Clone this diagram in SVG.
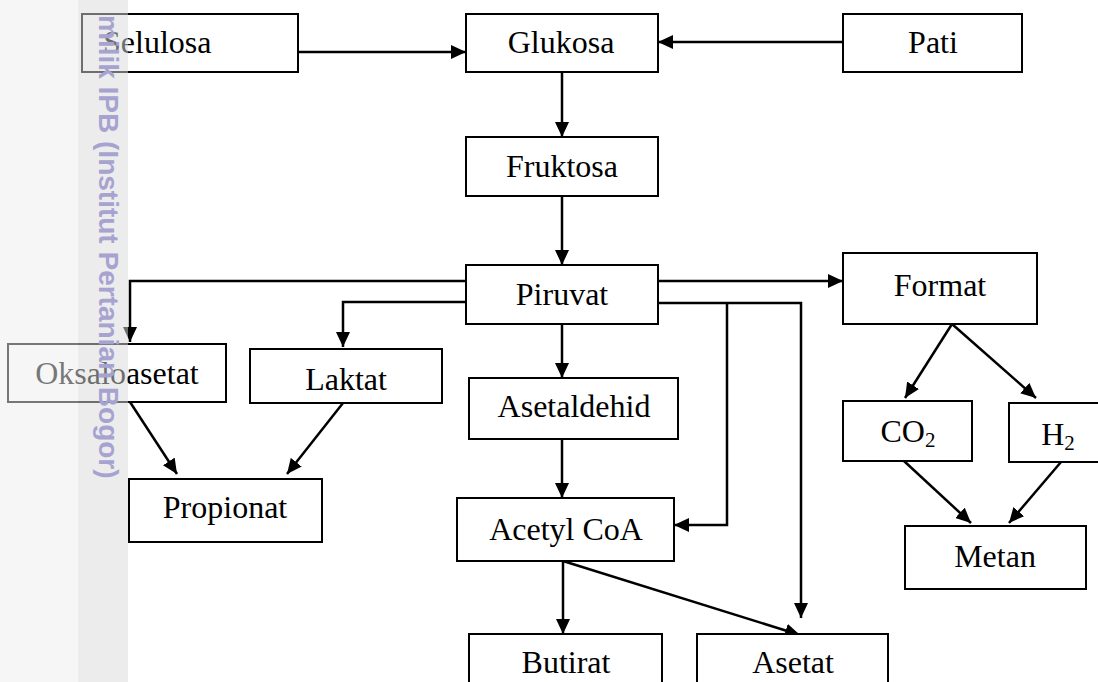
<svg xmlns="http://www.w3.org/2000/svg" width="1098" height="682" viewBox="0 0 1098 682">
<defs>
<marker id="ah" markerUnits="userSpaceOnUse" markerWidth="16" markerHeight="14" refX="15" refY="7" orient="auto">
<path d="M0,0 L15,7 L0,14 Z" fill="#000"/>
</marker>
<style>
.box{fill:#fff;stroke:#000;stroke-width:2}
.lbl{font-family:"Liberation Serif","Times New Roman",serif;font-size:32px;fill:#000;text-anchor:middle}
.sub{font-size:21px}
.con path{fill:none;stroke:#000;stroke-width:2.5;marker-end:url(#ah)}
.wm{font-family:"Liberation Sans",Arial,sans-serif;font-weight:bold;font-size:28px;fill:#a7a3d1}
</style>
</defs>
<rect width="1098" height="682" fill="#fff"/>
<g id="connectors" class="con">
<path d="M298,52 H466"/>
<path d="M843,42 H658"/>
<path d="M562,72 V137"/>
<path d="M562,196 V265"/>
<path d="M658,281 H843"/>
<path d="M658,303 H801 V618"/>
<path d="M727,303 V525 H674"/>
<path d="M562,324 V378"/>
<path d="M562,439 V498"/>
<path d="M563,561 V634"/>
<path d="M563,561 L800,635"/>
<path d="M466,281 H130 V342"/>
<path d="M466,302 H343 V347"/>
<path d="M130,402 L177,474"/>
<path d="M343,403 L287,474"/>
<path d="M952,324 L905,398"/>
<path d="M952,324 L1036,398"/>
<path d="M904,461 L971,523"/>
<path d="M1061,462 L1009,523"/>
</g>
<g id="selulosa"><rect class="box" x="82" y="14" width="216" height="58"/><text class="lbl" x="103" y="53" text-anchor="start" style="text-anchor:start">Selulosa</text></g>
<g id="glukosa"><rect class="box" x="466" y="14" width="192" height="58"/><text class="lbl" x="561" y="53">Glukosa</text></g>
<g id="pati"><rect class="box" x="843" y="14" width="179" height="58"/><text class="lbl" x="933" y="53">Pati</text></g>
<g id="fruktosa"><rect class="box" x="466" y="137" width="192" height="59"/><text class="lbl" x="562" y="177">Fruktosa</text></g>
<g id="piruvat"><rect class="box" x="466" y="265" width="192" height="59"/><text class="lbl" x="562" y="305">Piruvat</text></g>
<g id="format"><rect class="box" x="843" y="253" width="194" height="71"/><text class="lbl" x="940" y="296">Format</text></g>
<g id="oksaloasetat"><rect class="box" x="8" y="344" width="218" height="58"/><text class="lbl" x="117" y="384">Oksaloasetat</text></g>
<g id="laktat"><rect class="box" x="250" y="349" width="192" height="54"/><text class="lbl" x="346" y="390">Laktat</text></g>
<g id="asetaldehid"><rect class="box" x="469" y="378" width="209" height="61"/><text class="lbl" x="574" y="417">Asetaldehid</text></g>
<g id="co2"><rect class="box" x="843" y="401" width="129" height="60"/><text class="lbl" x="908" y="442">CO<tspan class="sub" dy="5">2</tspan></text></g>
<g id="h2"><rect class="box" x="1009" y="403" width="100" height="59"/><text class="lbl" x="1058" y="445">H<tspan class="sub" dy="5">2</tspan></text></g>
<g id="propionat"><rect class="box" x="129" y="479" width="193" height="63"/><text class="lbl" x="225" y="518">Propionat</text></g>
<g id="acetylcoa"><rect class="box" x="457" y="498" width="217" height="63"/><text class="lbl" x="566" y="540">Acetyl CoA</text></g>
<g id="metan"><rect class="box" x="905" y="526" width="181" height="63"/><text class="lbl" x="995" y="567">Metan</text></g>
<g id="butirat"><rect class="box" x="469" y="634" width="193" height="70"/><text class="lbl" x="566" y="673">Butirat</text></g>
<g id="asetat"><rect class="box" x="697" y="634" width="191" height="70"/><text class="lbl" x="793" y="673">Asetat</text></g>
<g id="watermark">
<rect x="0" y="0" width="78" height="682" fill="#eeeeee" fill-opacity="0.5"/>
<rect x="78" y="0" width="50" height="682" fill="#d9d9d9" fill-opacity="0.5"/>
<text class="wm" transform="translate(99,15) rotate(90)" x="0" y="0">milik IPB (Institut Pertanian Bogor)</text>
</g>
</svg>
